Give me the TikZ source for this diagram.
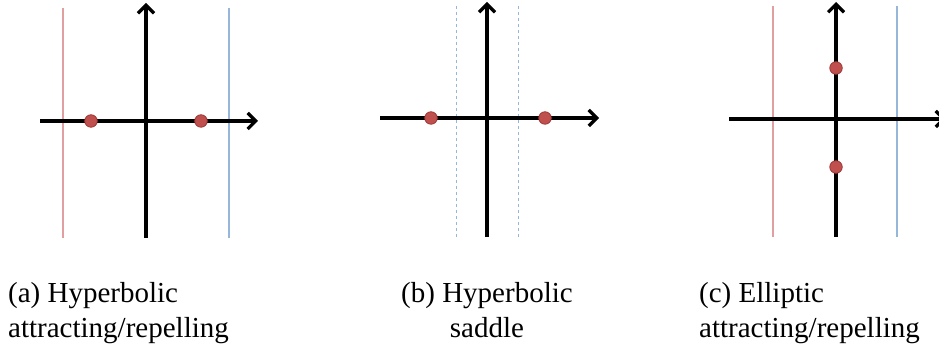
\documentclass[tikz,border=0pt]{standalone}
\usepackage{fontspec}
\setmainfont{Liberation Serif}
\usetikzlibrary{positioning,arrows.meta}
\definecolor{DotRed}{RGB}{192,80,77}
\definecolor{DotEdge}{RGB}{158,58,56}
\definecolor{LineRed}{RGB}{225,160,160}
\definecolor{LineBlue}{RGB}{150,182,218}

\begin{document}
\begin{tikzpicture}[x=1pt, y=1pt,
    axis/.style={line width=3.2pt, -{Straight Barb[length=8pt, width=16pt]}},
    fixdot/.style={circle, draw=DotEdge, fill=DotRed, line width=0.8pt,
                 minimum size=12.5pt, inner sep=0pt},
    redline/.style={draw=LineRed, line width=1.2pt},
    blueline/.style={draw=LineBlue, line width=1.2pt},
    guideline/.style={draw=LineBlue, line width=1pt, dash pattern=on 3pt off 3pt},
    caption/.style={font=\fontsize{29}{35}\selectfont, inner sep=0pt}
]
    \clip (0,0) rectangle (939,347);
    % (a) hyperbolic attracting/repelling
    \coordinate (aW) at (40,226);  \coordinate (aE) at (258,226);
    \coordinate (aS) at (146,109); \coordinate (aN) at (146,344);
    \coordinate (aRb) at (63,109); \coordinate (aRt) at (63,339);
    \coordinate (aBb) at (229,109); \coordinate (aBt) at (229,339);
    \draw[redline] (aRb) -- (aRt);
    \draw[blueline] (aBb) -- (aBt);
    \draw[axis] (aW) -- (aE);
    \draw[axis] (aS) -- (aN);
    \node[fixdot] (a1) at (91,226) {};
    \node[fixdot] (a2) at (201,226) {};
    \node[caption, anchor=base west, align=left] (capa) at (8,9)
        {(a) Hyperbolic\\attracting/repelling};
    % (b) hyperbolic saddle
    \coordinate (bW) at (380,229);  \coordinate (bE) at (599,229);
    \coordinate (bS) at (487,110);  \coordinate (bN) at (487,345);
    \coordinate (bLb) at (456,110); \coordinate (bLt) at (456,341);
    \coordinate (bRb) at (518,110); \coordinate (bRt) at (518,341);
    \draw[guideline] (bLb) -- (bLt);
    \draw[guideline] (bRb) -- (bRt);
    \draw[axis] (bW) -- (bE);
    \draw[axis] (bS) -- (bN);
    \node[fixdot] (b1) at (431,229) {};
    \node[fixdot] (b2) at (545,229) {};
    \node[caption, anchor=base, align=center] (capb) at (487,9)
        {(b) Hyperbolic\\saddle};
    % (c) elliptic attracting/repelling
    \coordinate (cW) at (729,228);  \coordinate (cE) at (946,228);
    \coordinate (cS) at (836,110);  \coordinate (cN) at (836,345);
    \coordinate (cRb) at (773,110); \coordinate (cRt) at (773,341);
    \coordinate (cBb) at (897,110); \coordinate (cBt) at (897,341);
    \draw[redline] (cRb) -- (cRt);
    \draw[blueline] (cBb) -- (cBt);
    \draw[axis] (cW) -- (cE);
    \draw[axis] (cS) -- (cN);
    \node[fixdot] (c1) at (836,279) {};
    \node[fixdot] (c2) at (836,180) {};
    \node[caption, anchor=base west, align=left] (capc) at (699,9)
        {(c) Elliptic\\attracting/repelling};
\end{tikzpicture}
\end{document}
